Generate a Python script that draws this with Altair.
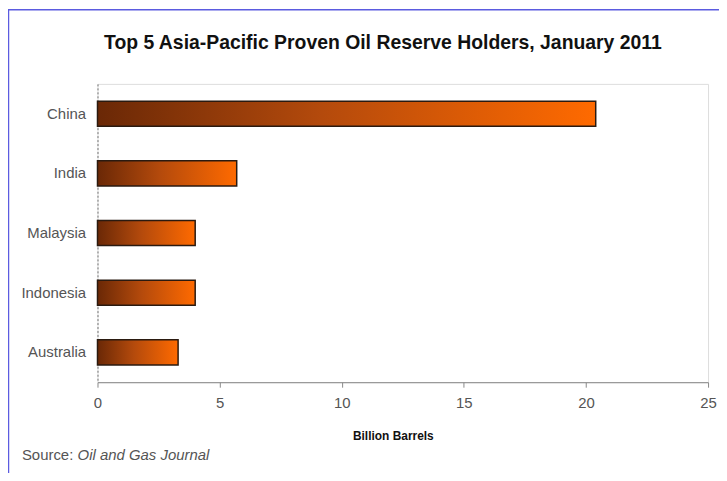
import altair as alt
import pandas as pd

countries = ["China", "India", "Malaysia", "Indonesia", "Australia"]
reserves = [20.4, 5.7, 4.0, 4.0, 3.3]
x_ticks = [0, 5, 10, 15, 20, 25]
title_text = ["Top 5 Asia-Pacific Proven Oil Reserve Holders, January 2011"]
x_title = "Billion Barrels"
source_prefix = ["Source: "]
source_name = ["Oil and Gas Journal"]

df = pd.DataFrame({"country": countries, "value": reserves})

FONT = "Liberation Sans"

bars = alt.Chart(df).mark_bar(
    color=alt.Gradient(
        gradient="linear",
        x1=0, x2=1, y1=0, y2=0,
        stops=[
            alt.GradientStop(color="#6a2806", offset=0),
            alt.GradientStop(color="#b44a0c", offset=0.45),
            alt.GradientStop(color="#ff6a00", offset=1),
        ],
    ),
    stroke="#2a1a10",
    strokeWidth=1.5,
).encode(
    x=alt.X(
        "value:Q",
        scale=alt.Scale(domain=[0, 25], nice=False),
        axis=alt.Axis(
            values=x_ticks,
            title=x_title,
            titleFont=FONT,
            titleFontSize=12,
            titleFontWeight="bold",
            titleColor="#111111",
            titleX=297,
            titleY=58,
            titleBaseline="alphabetic",
            labelFont=FONT,
            labelFontSize=15,
            labelColor="#555555",
            labelPadding=8,
            labelFlush=False,
            domainColor="#888888",
            tickColor="#888888",
            tickSize=5,
            grid=False,
        ),
    ),
    y=alt.Y(
        "country:N",
        sort=countries,
        scale=alt.Scale(paddingInner=0.58, paddingOuter=0.29),
        axis=alt.Axis(
            title=None,
            labelFont=FONT,
            labelFontSize=15,
            labelColor="#555555",
            labelPadding=12,
            ticks=False,
            domainColor="#777777",
            domainDash=[2, 2],
            grid=False,
        ),
    ),
)

title = alt.Chart(pd.DataFrame({"t": title_text})).mark_text(
    font=FONT, fontSize=19.5, fontWeight="bold", color="#111111", align="center", baseline="alphabetic"
).encode(text="t:N", x=alt.value(287), y=alt.value(-35))

src1 = alt.Chart(pd.DataFrame({"t": source_prefix})).mark_text(
    font=FONT, fontSize=15, color="#555555", align="left", baseline="middle"
).encode(text="t:N", x=alt.value(-76), y=alt.value(373))

src2 = alt.Chart(pd.DataFrame({"t": source_name})).mark_text(
    font=FONT, fontSize=15, fontStyle="italic", color="#555555", align="left", baseline="middle"
).encode(text="t:N", x=alt.value(-20), y=alt.value(373))

frame_left = alt.Chart(pd.DataFrame({"a": [0]})).mark_rule(color="#5b5be0", strokeWidth=1.5).encode(
    x=alt.value(-89.5), y=alt.value(-75), y2=alt.value(400)
)
frame_top = alt.Chart(pd.DataFrame({"a": [0]})).mark_rule(color="#5b5be0", strokeWidth=1.5).encode(
    x=alt.value(-90), x2=alt.value(630), y=alt.value(-74.5)
)

chart = alt.layer(bars, title, src1, src2, frame_left, frame_top).properties(
    width=614,
    height=300,
    autosize=alt.AutoSizeParams(type="none"),
    padding={"left": 90, "top": 75, "right": 11, "bottom": 90},
).configure_view(strokeWidth=0).configure(background="white")

chart.save("out.html", embed_options={"renderer": "svg", "actions": False})
